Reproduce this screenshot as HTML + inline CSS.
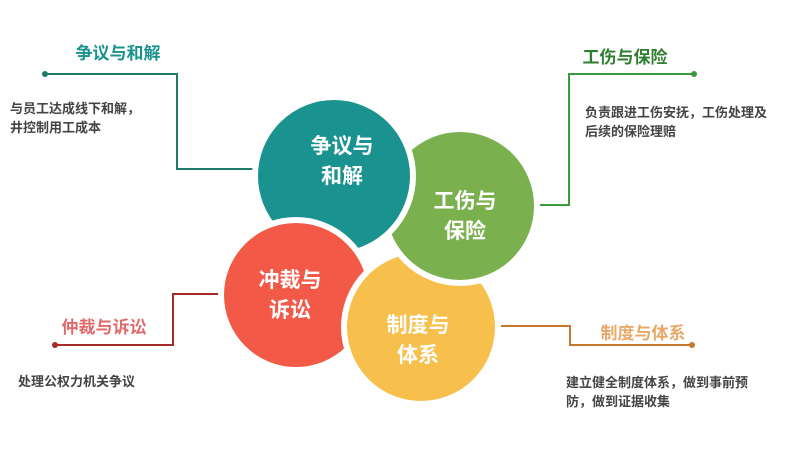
<!DOCTYPE html>
<html><head><meta charset="utf-8"><style>
html,body{margin:0;padding:0;background:#fff;width:786px;height:450px;overflow:hidden}
svg{display:block}
text{font-family:"Liberation Sans","Noto Sans CJK SC",sans-serif;font-weight:bold}
</style></head><body>
<svg width="786" height="450" viewBox="0 0 786 450">
<defs>
<clipPath id="c1"><circle cx="334" cy="176" r="84"/></clipPath>
</defs>
<polyline points="45,74 177,74 177,169 258,169" fill="none" stroke="#1f7a67" stroke-width="2"/>
<circle cx="45" cy="74" r="3" fill="#1f7a67"/>
<polyline points="694,74 569,74 569,205 530,205" fill="none" stroke="#3c9a3c" stroke-width="2"/>
<circle cx="694" cy="74" r="3" fill="#3c9a3c"/>
<polyline points="55,345 173,345 173,294 228,294" fill="none" stroke="#a52a2a" stroke-width="2"/>
<circle cx="55" cy="345" r="3" fill="#a52a2a"/>
<polyline points="498,326 570,326 570,345 692,345" fill="none" stroke="#c8782a" stroke-width="2"/>
<circle cx="692" cy="345" r="3" fill="#c8782a"/>
<circle cx="296" cy="295" r="75" fill="#f25a47" stroke="#fff" stroke-width="6"/>
<circle cx="421" cy="327" r="77" fill="#f7bf4b" stroke="#fff" stroke-width="6"/>
<circle cx="460" cy="206" r="77" fill="#7bb04f" stroke="#fff" stroke-width="6"/>
<circle cx="334" cy="176" r="79" fill="#1a9390" stroke="#fff" stroke-width="6"/>
<g clip-path="url(#c1)"><circle cx="296" cy="295" r="75" fill="#f25a47" stroke="#fff" stroke-width="6"/></g>
<g fill="#fff" font-size="21" text-anchor="middle">
<text x="342" y="153">争议与</text><text x="342" y="183">和解</text>
<text x="465" y="208">工伤与</text><text x="465" y="238">保险</text>
<text x="290" y="287">冲裁与</text><text x="290" y="317">诉讼</text>
<text x="418" y="332">制度与</text><text x="418" y="362">体系</text>
</g>
<text x="118" y="59" font-size="17" fill="#1a9390" text-anchor="middle">争议与和解</text>
<text x="625" y="63" font-size="17" fill="#2f7d2f" text-anchor="middle">工伤与保险</text>
<text x="104" y="333" font-size="17" fill="#e06a6a" text-anchor="middle">仲裁与诉讼</text>
<text x="643" y="339" font-size="17" fill="#e8a868" text-anchor="middle">制度与体系</text>
<g font-size="13" fill="#444">
<text x="10" y="113">与员工达成线下和解，</text><text x="10" y="132">井控制用工成本</text>
<text x="585" y="117">负责跟进工伤安抚，工伤处理及</text><text x="585" y="136">后续的保险理赔</text>
<text x="18" y="386">处理公权力机关争议</text>
<text x="566" y="387">建立健全制度体系，做到事前预</text><text x="566" y="406">防，做到证据收集</text>
</g>
</svg>
</body></html>
